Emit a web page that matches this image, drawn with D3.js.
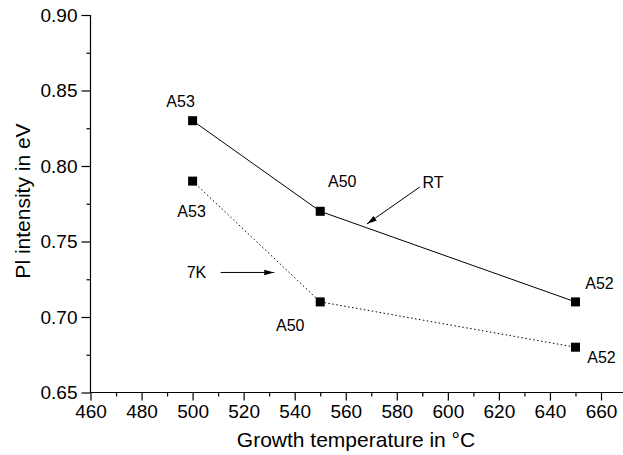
<!DOCTYPE html>
<html>
<head>
<meta charset="utf-8">
<script src="https://cdn.jsdelivr.net/npm/d3@7"></script>
<style>
body { margin: 0; background: #fff; }
text { font-family: "Liberation Sans", Arial, sans-serif; fill: #000; }
</style>
</head>
<body>
<svg id="chart" width="623" height="455"></svg>
<script>
var temps = [500, 550, 650];
var rtValues = [0.83, 0.77, 0.71];
var lowValues = [0.79, 0.71, 0.68];
var xTicks = [460, 480, 500, 520, 540, 560, 580, 600, 620, 640, 660];
var yTicks = [0.65, 0.70, 0.75, 0.80, 0.85, 0.90];

// sample labels: [temp, value, dx, dy, text]
var sampleLabels = [
	[500, 0.83, -12, -19, 'A53'],
	[500, 0.79, -1, 30, 'A53'],
	[550, 0.77, 22, -30, 'A50'],
	[550, 0.71, -30, 23, 'A50'],
	[650, 0.71, 24, -19, 'A52'],
	[650, 0.68, 26, 10, 'A52']
];

var svg = d3.select('#chart');
var x = d3.scaleLinear().domain([460, 660]).range([90.5, 601]);
var y = d3.scaleLinear().domain([0.65, 0.90]).range([392.5, 15]);

var defs = svg.append('defs');
defs.append('marker')
	.attr('id', 'arrow')
	.attr('viewBox', '0 0 10 10')
	.attr('refX', 10).attr('refY', 5)
	.attr('markerWidth', 10).attr('markerHeight', 10)
	.attr('markerUnits', 'userSpaceOnUse')
	.attr('orient', 'auto')
	.append('path').attr('d', 'M0,2.2 L10,5 L0,7.8 Z').attr('fill', '#000');

// axes
var xAxis = svg.append('g').attr('transform', 'translate(0,392.5)');
xAxis.append('line').attr('x1', 90.5).attr('x2', 623).attr('stroke', '#000').attr('stroke-width', 1.2);
xAxis.call(d3.axisBottom(x).tickValues(d3.range(470, 661, 20)).tickSize(4).tickFormat(''))
	.select('.domain').remove();
var xMajor = svg.append('g').attr('transform', 'translate(0,392.5)')
	.call(d3.axisBottom(x).tickValues(xTicks).tickSize(8).tickPadding(4).tickFormat(d3.format('d')));
xMajor.select('.domain').remove();
xMajor.selectAll('text').style('font-size', '19px').attr('fill', '#000');

var yAxis = svg.append('g').attr('transform', 'translate(90.5,0)');
yAxis.append('line').attr('y1', 15).attr('y2', 392.5).attr('stroke', '#000').attr('stroke-width', 1.2);
yAxis.call(d3.axisLeft(y).tickValues([0.675, 0.725, 0.775, 0.825, 0.875]).tickSize(4).tickFormat(''))
	.select('.domain').remove();
var yMajor = svg.append('g').attr('transform', 'translate(90.5,0)')
	.call(d3.axisLeft(y).tickValues(yTicks).tickSize(9).tickPadding(4).tickFormat(d3.format('.2f')));
yMajor.select('.domain').remove();
yMajor.selectAll('text').style('font-size', '19px').attr('fill', '#000');
svg.selectAll('.tick line').attr('stroke', '#000').attr('stroke-width', 1.2);

svg.append('text')
	.attr('x', 356).attr('y', 447)
	.attr('text-anchor', 'middle')
	.style('font-size', '21px')
	.text('Growth temperature in \u00b0C');
svg.append('text')
	.attr('transform', 'translate(30,201) rotate(-90)')
	.attr('text-anchor', 'middle')
	.style('font-size', '21px')
	.text('Pl intensity in eV');

// series
var line = d3.line()
	.x(function(d) { return x(d[0]); })
	.y(function(d) { return y(d[1]); });
var rtData = d3.zip(temps, rtValues);
var lowData = d3.zip(temps, lowValues);

svg.append('path').datum(rtData)
	.attr('d', line).attr('fill', 'none').attr('stroke', '#000').attr('stroke-width', 1);
svg.append('path').datum(lowData)
	.attr('d', line).attr('fill', 'none').attr('stroke', '#000').attr('stroke-width', 1)
	.attr('stroke-dasharray', '1.5,2.5');

svg.selectAll('rect.pt').data(rtData.concat(lowData)).enter().append('rect')
	.attr('class', 'pt')
	.attr('x', function(d) { return x(d[0]) - 4.5; })
	.attr('y', function(d) { return y(d[1]) - 4.5; })
	.attr('width', 9).attr('height', 9)
	.attr('fill', '#000');

svg.selectAll('text.lbl').data(sampleLabels).enter().append('text')
	.attr('class', 'lbl')
	.attr('x', function(d) { return x(d[0]) + d[2]; })
	.attr('y', function(d) { return y(d[1]) + d[3]; })
	.attr('text-anchor', 'middle')
	.attr('dy', '0.35em')
	.style('font-size', '16px')
	.text(function(d) { return d[4]; });

// series annotations
svg.append('line')
	.attr('x1', x(589)).attr('y1', y(0.7861))
	.attr('x2', x(568.3)).attr('y2', y(0.7616))
	.attr('stroke', '#000').attr('stroke-width', 1)
	.attr('marker-end', 'url(#arrow)');
svg.append('text')
	.attr('x', x(594.2)).attr('y', y(0.7894)).attr('dy', '0.35em')
	.attr('text-anchor', 'middle').style('font-size', '16px').text('RT');

svg.append('line')
	.attr('x1', x(511)).attr('y1', y(0.7295))
	.attr('x2', x(532)).attr('y2', y(0.7295))
	.attr('stroke', '#000').attr('stroke-width', 1)
	.attr('marker-end', 'url(#arrow)');
svg.append('text')
	.attr('x', x(501.5)).attr('y', y(0.7295)).attr('dy', '0.35em')
	.attr('text-anchor', 'middle').style('font-size', '16px').text('7K');
</script>
</body>
</html>
